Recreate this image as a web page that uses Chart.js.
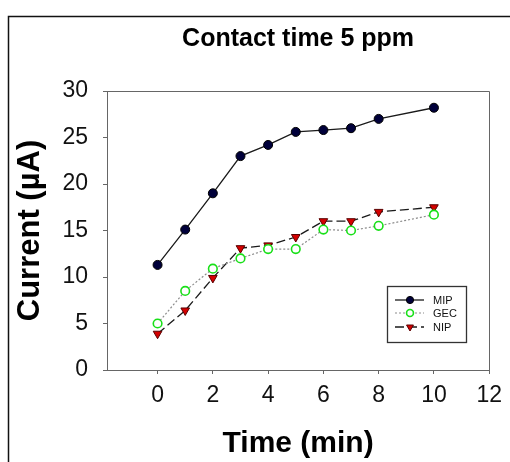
<!DOCTYPE html>
<html>
<head>
<meta charset="utf-8">
<script src="https://cdn.jsdelivr.net/npm/chart.js@4"></script>
<style>
  html, body { margin: 0; padding: 0; background: #fff; }
  #wrap { position: relative; width: 510px; height: 462px; }
</style>
</head>
<body>
<div id="wrap"><canvas id="c" width="510" height="462"></canvas></div>
<script>
// Contact time (min)
const times = [0, 1, 2, 3, 4, 5, 6, 7, 8, 10];
// Current response (µA) for each electrode
const mip = [11.3, 15.1, 19.0, 23.0, 24.2, 25.6, 25.8, 26.0, 27.0, 28.2];
const gec = [5.0, 8.5, 10.9, 12.0, 13.0, 13.0, 15.1, 15.0, 15.5, 16.7];
const nip = [3.9, 6.4, 9.9, 13.1, 13.4, 14.3, 16.0, 16.0, 17.0, 17.5];
const xTicks = [0, 2, 4, 6, 8, 10, 12];
const yTicks = [0, 5, 10, 15, 20, 25, 30];

const pts = arr => arr.map((v, i) => ({ x: times[i], y: v }));
const axisColor = '#666';
const FONT = '"Liberation Sans", Arial, sans-serif';

function drawMarker(ctx, ds, x, y, r) {
  ctx.save();
  ctx.fillStyle = ds.pointBackgroundColor;
  ctx.strokeStyle = ds.pointBorderColor;
  ctx.lineWidth = ds.pointBorderWidth;
  ctx.setLineDash([]);
  Chart.helpers.drawPoint(ctx, {
    pointStyle: ds.pointStyle,
    rotation: ds.pointRotation || 0,
    radius: r,
    borderWidth: ds.pointBorderWidth
  }, x, y);
  ctx.restore();
}

// outer frame, box around the plot and an inset legend
const decor = {
  id: 'decor',
  beforeDraw(chart) {
    const ctx = chart.ctx;
    ctx.save();
    ctx.strokeStyle = '#111';
    ctx.lineWidth = 1.5;
    ctx.beginPath();
    ctx.moveTo(8.5, 462);
    ctx.lineTo(8.5, 16.5);
    ctx.lineTo(510, 16.5);
    ctx.stroke();
    ctx.restore();
  },
  afterDatasetsDraw(chart) {
    const ctx = chart.ctx;
    const a = chart.chartArea;
    ctx.save();
    ctx.strokeStyle = axisColor;
    ctx.lineWidth = 1;
    ctx.beginPath();
    ctx.moveTo(Math.round(a.left) + 0.5, Math.round(a.top) + 0.5);
    ctx.lineTo(Math.round(a.right) + 0.5, Math.round(a.top) + 0.5);
    ctx.lineTo(Math.round(a.right) + 0.5, Math.round(a.bottom) + 0.5);
    ctx.stroke();

    // legend box
    const bx = 387, by = 286, bw = 79, bh = 56;
    ctx.strokeStyle = '#333';
    ctx.lineWidth = 1.3;
    ctx.strokeRect(bx + 0.5, by + 0.5, bw, bh);
    const rows = [300, 313, 327];
    chart.data.datasets.forEach((ds, i) => {
      const y = rows[i];
      ctx.save();
      ctx.strokeStyle = ds.borderColor;
      ctx.lineWidth = ds.borderWidth;
      ctx.setLineDash(ds.borderDash || []);
      ctx.beginPath();
      ctx.moveTo(395, y);
      ctx.lineTo(424, y);
      ctx.stroke();
      ctx.restore();
      drawMarker(ctx, ds, 410, y, ds.pointRadius * 0.8);
      ctx.fillStyle = '#111';
      ctx.font = '11px ' + FONT;
      ctx.textBaseline = 'middle';
      ctx.textAlign = 'left';
      ctx.fillText(ds.label, 433, y + 0.5);
    });
    ctx.restore();
  }
};

new Chart(document.getElementById('c'), {
  type: 'line',
  data: {
    datasets: [
      {
        label: 'MIP',
        data: pts(mip),
        borderColor: '#1a1a1a',
        borderWidth: 1.3,
        pointStyle: 'circle',
        pointRadius: 4.5,
        pointBackgroundColor: '#00003a',
        pointBorderColor: '#000',
        pointBorderWidth: 1
      },
      {
        label: 'GEC',
        data: pts(gec),
        borderColor: '#8c8c8c',
        borderWidth: 1.2,
        borderDash: [2, 2],
        pointStyle: 'circle',
        pointRadius: 4.3,
        pointBackgroundColor: '#ffffff',
        pointBorderColor: '#19e019',
        pointBorderWidth: 1.6
      },
      {
        label: 'NIP',
        data: pts(nip),
        borderColor: '#1a1a1a',
        borderWidth: 1.3,
        borderDash: [9, 4],
        pointStyle: 'triangle',
        pointRotation: 180,
        pointRadius: 5,
        pointBackgroundColor: '#d40000',
        pointBorderColor: '#5a0000',
        pointBorderWidth: 1
      }
    ]
  },
  options: {
    responsive: false,
    animation: false,
    events: [],
    layout: { padding: { left: 0, right: 15, top: 0, bottom: 0 } },
    elements: { line: { tension: 0 } },
    plugins: {
      legend: { display: false },
      tooltip: { enabled: false },
      title: {
        display: true,
        fullSize: false,
        text: 'Contact time 5 ppm',
        color: '#000',
        font: { family: FONT, size: 25, weight: 'bold', lineHeight: 1.2 },
        padding: { top: 24, bottom: 37 }
      }
    },
    scales: {
      x: {
        type: 'linear',
        min: -1.83,
        max: 12,
        afterBuildTicks(scale) { scale.ticks = xTicks.map(v => ({ value: v })); },
        afterFit(scale) { scale.height = 92; },
        grid: { drawOnChartArea: false, drawTicks: true, tickLength: 4, color: axisColor, lineWidth: 1 },
        border: { display: true, color: axisColor, width: 1 },
        ticks: { color: '#111', padding: 8, maxRotation: 0, font: { family: FONT, size: 23 } },
        title: {
          display: true,
          text: 'Time (min)',
          color: '#000',
          font: { family: FONT, size: 30, weight: 'bold', lineHeight: 1.2 },
          padding: { top: 0, bottom: 0 }
        }
      },
      y: {
        type: 'linear',
        min: 0,
        max: 30,
        afterBuildTicks(scale) { scale.ticks = yTicks.map(v => ({ value: v })); },
        afterFit(scale) { scale.width = 107; },
        grid: { drawOnChartArea: false, drawTicks: true, tickLength: 4, color: axisColor, lineWidth: 1 },
        border: { display: true, color: axisColor, width: 1 },
        ticks: { color: '#111', padding: 15, font: { family: FONT, size: 23 } },
        title: {
          display: true,
          text: 'Current (µA)',
          color: '#000',
          font: { family: FONT, size: 31, weight: 'bold', lineHeight: 1.2 },
          padding: { top: 12, bottom: 0 }
        }
      }
    }
  },
  plugins: [decor]
});
</script>
</body>
</html>
